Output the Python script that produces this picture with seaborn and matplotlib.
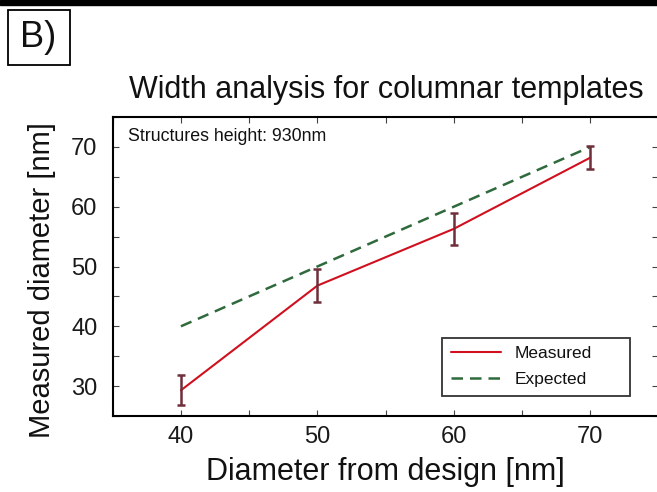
import matplotlib
matplotlib.use("Agg")
import matplotlib.pyplot as plt
import seaborn as sns
import pandas as pd
from matplotlib.patches import Rectangle
from matplotlib.ticker import MultipleLocator

design = [40, 50, 60, 70]
measured = [29.3, 46.8, 56.3, 68.2]
measured_err = [2.5, 2.7, 2.65, 1.9]
expected = [40, 50, 60, 70]

sns.set_theme(style="ticks")
plt.rcParams['font.family'] = ['Liberation Sans', 'DejaVu Sans']
plt.rcParams['text.color'] = '#111111'
plt.rcParams['axes.labelcolor'] = '#111111'

df = pd.DataFrame({"design": design, "measured": measured, "expected": expected})

W, H = 657, 492
fig = plt.figure(figsize=(W / 100, H / 100), dpi=100)
ax_l, ax_r, ax_t, ax_b = 112.7, 658.5, 117, 416
ax = fig.add_axes([ax_l / W, 1 - ax_b / H, (ax_r - ax_l) / W, (ax_b - ax_t) / H])

sns.lineplot(data=df, x="design", y="measured", ax=ax, color="#d0101e", lw=1.5, label="Measured")
sns.lineplot(data=df, x="design", y="expected", ax=ax, color="#2f6a3c", lw=1.8, ls=(0, (4.6, 2.8)), label="Expected")
ax.errorbar(design, measured, yerr=measured_err, fmt="none", ecolor="#6e2f3a", elinewidth=1.8, capsize=3.2, capthick=1.8)

ax.set_xlim(35, 75)
ax.set_ylim(25, 75)
ax.xaxis.set_major_locator(MultipleLocator(10))
ax.xaxis.set_minor_locator(MultipleLocator(5))
ax.yaxis.set_major_locator(MultipleLocator(10))
ax.yaxis.set_minor_locator(MultipleLocator(5))
ax.tick_params(which="both", direction="in", top=True, right=True, length=4, width=0.8, color="#444444")
ax.tick_params(axis="x", labelsize=17, pad=7, labelcolor="#1a1a1a")
ax.tick_params(axis="y", labelsize=17, pad=11, labelcolor="#1a1a1a")
for s in ax.spines.values():
    s.set_linewidth(1.5)
    s.set_color("black")

ax.set_xlabel("Diameter from design [nm]", fontsize=22, labelpad=7)
ax.set_ylabel("Measured diameter [nm]", fontsize=21)
ax.yaxis.set_label_coords((56 - ax_l) / (ax_r - ax_l), (ax_b - 280) / (ax_b - ax_t))
ax.set_title("Width analysis for columnar templates", fontsize=22, pad=14, x=(386.5 - ax_l) / (ax_r - ax_l))

ax.text(0.028, 0.935, "Structures height: 930nm", transform=ax.transAxes, fontsize=12.8, va="center", ha="left")

leg = ax.legend(loc="lower left", bbox_to_anchor=(0.604, 0.067, 0.343, 0.2), mode="expand", fontsize=12.5,
                frameon=True, fancybox=False, edgecolor="black", handlelength=2.9, handletextpad=0.75,
                borderpad=0.5, labelspacing=0.62, borderaxespad=0)
leg.get_frame().set_linewidth(1.3)

fig.patches.append(Rectangle((0, 1 - 5 / H), 1, 5 / H, transform=fig.transFigure, color="black", zorder=5))
fig.patches.append(Rectangle((8 / W, 1 - 65 / H), 62 / W, 55 / H, transform=fig.transFigure,
                             fc="white", ec="black", lw=1.3, zorder=4))
fig.text(20 / W, 1 - 47 / H, "B)", fontsize=26, ha="left", va="baseline", zorder=6)

fig.savefig("out.png", dpi=100)
